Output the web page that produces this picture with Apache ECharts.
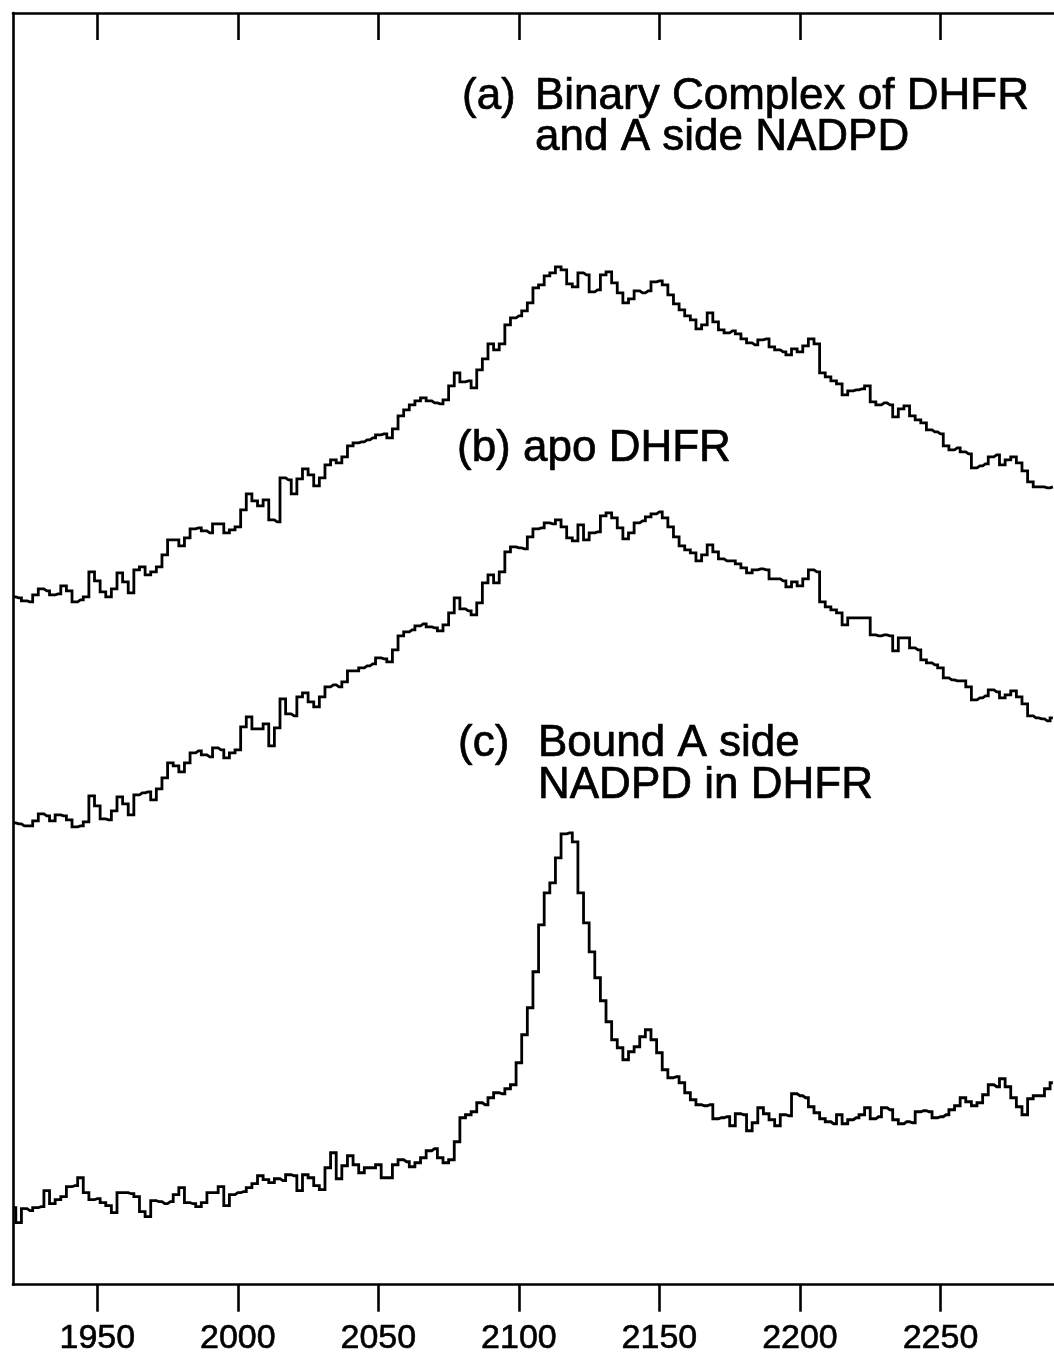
<!DOCTYPE html>
<html>
<head>
<meta charset="utf-8">
<title>DHFR / NADPD spectra</title>
<script src="https://cdn.jsdelivr.net/npm/echarts@6/dist/echarts.min.js"></script>
<style>
  html, body { margin: 0; padding: 0; background: #fff; overflow: hidden; }
  /* the plot box runs past the right edge of the page, so the canvas is wider than the window */
  #chart { width: 1100px; height: 1356px; }
</style>
</head>
<body>
<div id="chart"></div>
<script>
// Wavenumber sampling (cm^-1)
const wavenumbers = [
  1920,1922,1924,1926,1928,1930,1932,1934,1936,1938,
  1940,1942,1944,1946,1948,1950,1952,1954,1956,1958,
  1960,1962,1964,1966,1968,1970,1972,1974,1976,1978,
  1980,1982,1984,1986,1988,1990,1992,1994,1996,1998,
  2000,2002,2004,2006,2008,2010,2012,2014,2016,2018,
  2020,2022,2024,2026,2028,2030,2032,2034,2036,2038,
  2040,2042,2044,2046,2048,2050,2052,2054,2056,2058,
  2060,2062,2064,2066,2068,2070,2072,2074,2076,2078,
  2080,2082,2084,2086,2088,2090,2092,2094,2096,2098,
  2100,2102,2104,2106,2108,2110,2112,2114,2116,2118,
  2120,2122,2124,2126,2128,2130,2132,2134,2136,2138,
  2140,2142,2144,2146,2148,2150,2152,2154,2156,2158,
  2160,2162,2164,2166,2168,2170,2172,2174,2176,2178,
  2180,2182,2184,2186,2188,2190,2192,2194,2196,2198,
  2200,2202,2204,2206,2208,2210,2212,2214,2216,2218,
  2220,2222,2224,2226,2228,2230,2232,2234,2236,2238,
  2240,2242,2244,2246,2248,2250,2252,2254,2256,2258,
  2260,2262,2264,2266,2268,2270,2272,2274,2276,2278,
  2280,2282,2284,2286,2288,2290
];

// (a) binary complex of DHFR with A-side NADPD (offset intensity)
const binaryComplex = [
  68.8,68.7,68.4,68.3,69.0,69.6,69.4,69.0,69.1,69.9,
  69.4,68.3,68.5,68.8,71.3,70.4,69.3,68.8,69.6,71.2,
  70.3,69.2,71.5,71.8,71.0,71.3,71.8,73.0,74.5,74.5,
  73.9,74.7,75.6,75.7,75.4,75.2,76.1,76.1,75.2,75.5,
  75.8,77.5,79.1,78.4,77.9,78.5,76.5,76.3,80.7,80.5,
  79.1,80.6,81.6,81.0,79.9,80.7,82.0,82.5,82.2,82.8,
  83.9,
  84.2,84.3,84.5,84.7,85.0,85.1,84.7,85.6,86.9,87.5,
  88.0,88.4,88.7,88.4,88.2,88.1,88.5,89.9,91.2,90.3,
  90.4,89.7,91.5,92.6,94.1,93.5,94.1,96.0,96.7,96.9,
  97.4,98.2,99.7,100.0,100.9,101.2,101.8,101.5,100.1,99.8,
  101.2,101.0,99.3,99.5,101.0,101.3,100.2,99.2,98.2,98.6,
  99.4,99.2,99.4,100.3,100.4,100.0,99.0,98.1,97.5,96.9,
  96.5,95.6,
  96.0,97.2,96.3,95.5,95.2,95.4,95.1,94.6,94.2,94.0,
  94.5,94.6,93.8,93.5,93.3,93.0,93.6,93.3,93.9,94.6,
  94.1,91.2,90.8,90.4,90.1,89.0,89.4,89.5,89.6,89.9,
  88.3,88.0,88.2,88.0,86.8,87.6,87.9,86.9,86.5,86.2,
  85.5,85.3,85.1,83.9,83.5,83.7,83.3,83.1,81.7,81.9,
  82.1,82.8,83.0,82.0,82.5,82.8,82.2,81.4,80.3,79.8,
  79.8,79.7,79.8
];

// (b) apo DHFR (offset intensity)
const apoDHFR = [
  46.2,46.1,45.9,45.9,46.4,47.1,46.9,46.4,47.0,46.9,
  46.5,45.8,45.9,46.3,48.9,47.9,46.6,46.5,47.4,48.8,
  48.1,47.0,49.0,49.2,49.3,48.5,49.6,50.7,52.2,51.9,
  51.3,52.2,53.2,53.4,53.0,52.8,53.7,53.5,52.7,53.2,
  53.5,55.8,56.8,55.6,55.6,56.1,53.9,55.7,58.6,57.1,
  56.9,58.8,59.2,58.3,57.8,58.8,59.8,60.0,59.8,60.3,
  61.4,
  61.4,61.7,61.9,62.1,62.7,62.6,62.3,63.5,64.9,65.3,
  65.5,65.9,66.1,65.8,65.7,65.4,66.0,67.2,68.7,67.6,
  67.4,67.0,68.2,70.2,71.0,70.2,71.3,73.3,73.8,73.7,
  73.6,74.8,75.6,75.7,76.2,76.1,76.5,75.8,74.7,74.4,
  76.0,74.5,75.2,75.3,76.9,77.2,76.7,75.7,74.6,75.2,
  76.2,76.4,76.8,77.1,77.3,76.7,75.8,74.8,73.9,73.5,
  73.2,72.4,
  73.0,74.0,73.3,72.6,72.4,72.4,72.1,71.7,71.2,71.5,
  71.6,71.5,70.6,70.6,70.4,69.8,70.3,69.9,70.6,71.5,
  71.3,68.3,67.8,67.5,67.2,66.0,66.7,66.7,66.7,66.7,
  65.0,64.9,65.0,64.9,63.4,64.7,64.7,63.7,63.5,62.5,
  62.2,62.0,61.7,60.7,60.5,60.4,60.4,59.8,58.5,58.7,
  58.9,59.5,59.3,58.7,59.0,59.4,58.8,58.1,56.9,56.7,
  56.6,56.4,56.7
];

// (c) bound A-side NADPD in DHFR (offset intensity)
const boundNADPD = [
  7.7,6.2,7.6,7.4,7.7,7.8,9.4,8.1,8.5,8.8,
  9.8,9.9,10.7,9.2,8.5,8.6,8.2,7.9,7.2,9.2,
  9.2,9.1,8.8,7.3,6.8,8.4,8.3,8.1,8.3,9.0,
  9.7,8.2,8.1,7.8,8.2,9.2,9.2,9.8,7.9,9.0,
  9.2,9.3,9.7,10.1,10.9,10.5,10.2,10.6,10.4,11.0,
  10.9,9.4,11.0,10.7,9.9,9.5,11.7,13.2,10.6,11.9,
  12.9,
  12.0,11.2,11.7,11.7,12.0,10.7,10.7,12.0,12.5,12.3,
  11.8,12.2,12.7,13.4,13.6,12.7,12.2,12.5,14.3,16.7,
  17.0,17.3,18.2,18.0,18.7,19.2,19.1,19.6,20.0,22.2,
  25.0,27.7,31.3,36.0,39.2,40.2,42.7,45.1,45.2,44.3,
  39.2,36.2,33.3,30.7,28.4,26.3,24.5,23.7,22.5,23.3,
  23.8,24.8,25.5,24.5,23.2,21.5,20.7,20.8,20.2,19.2,
  18.5,18.0,
  17.9,18.0,16.6,16.7,16.8,15.9,17.1,17.0,15.4,16.2,
  17.7,17.1,16.5,15.9,17.0,16.9,19.1,18.9,18.7,17.8,
  17.2,16.6,16.3,16.1,17.0,16.1,16.5,16.7,17.0,17.7,
  16.6,16.8,17.7,17.5,16.5,16.1,16.3,16.2,17.3,17.4,
  17.3,16.7,16.8,17.0,17.5,17.9,18.7,18.3,17.9,18.2,
  19.0,20.0,19.8,20.6,19.8,18.7,17.8,17.0,18.6,18.9,
  18.9,19.6,20.2
];

const tickValues = [1950, 2000, 2050, 2100, 2150, 2200, 2250];
const xMin = 1920, xMax = 2300;
const yMin = 0, yMax = 127.2;

const FONT = '"Liberation Sans", Arial, Helvetica, sans-serif';
const INK = '#000';

function pairs(values) {
  return wavenumbers.map((w, i) => [w, values[i]]);
}

function trace(name, values) {
  return {
    name: name,
    type: 'line',
    step: 'middle',
    data: pairs(values),
    showSymbol: false,
    symbol: 'none',
    silent: true,
    animation: false,
    lineStyle: { color: INK, width: 2.8, join: 'miter' },
    z: 3
  };
}

function label(text, x, y) {
  return {
    type: 'text',
    x: x,
    y: y,
    silent: true,
    style: {
      text: text,
      fill: INK,
      stroke: INK,
      lineWidth: 0.7,
      font: '44px ' + FONT,
      verticalAlign: 'middle',
      align: 'left'
    }
  };
}

const chart = echarts.init(document.getElementById('chart'), null, { renderer: 'canvas' });

chart.setOption({
  animation: false,
  backgroundColor: '#fff',
  grid: { left: 13, top: 13, width: 1068, height: 1272, containLabel: false },
  xAxis: [
    {
      type: 'value',
      position: 'bottom',
      min: xMin,
      max: xMax,
      axisLine: { show: true, onZero: false, lineStyle: { color: INK, width: 2.6 } },
      axisTick: { show: true, inside: false, length: 27, customValues: tickValues,
                  lineStyle: { color: INK, width: 2.6 } },
      axisLabel: { show: true, customValues: tickValues, margin: 37,
                   color: INK, fontSize: 34, fontFamily: FONT,
                   textBorderColor: INK, textBorderWidth: 0.6,
                   formatter: v => String(v) },
      splitLine: { show: false }
    },
    {
      type: 'value',
      position: 'top',
      min: xMin,
      max: xMax,
      axisLine: { show: true, onZero: false, lineStyle: { color: INK, width: 2.6 } },
      axisTick: { show: true, inside: true, length: 27, customValues: tickValues,
                  lineStyle: { color: INK, width: 2.6 } },
      axisLabel: { show: false },
      splitLine: { show: false }
    }
  ],
  yAxis: [
    {
      type: 'value',
      position: 'left',
      min: yMin,
      max: yMax,
      axisLine: { show: true, onZero: false, lineStyle: { color: INK, width: 2.6 } },
      axisTick: { show: false },
      axisLabel: { show: false },
      splitLine: { show: false }
    },
    {
      type: 'value',
      position: 'right',
      min: yMin,
      max: yMax,
      axisLine: { show: true, onZero: false, lineStyle: { color: INK, width: 2.6 } },
      axisTick: { show: false },
      axisLabel: { show: false },
      splitLine: { show: false }
    }
  ],
  series: [
    trace('(a) Binary Complex of DHFR and A side NADPD', binaryComplex),
    trace('(b) apo DHFR', apoDHFR),
    trace('(c) Bound A side NADPD in DHFR', boundNADPD)
  ],
  graphic: [
    label('(a)', 462, 97),
    label('Binary Complex of DHFR', 535, 97),
    label('and A side NADPD', 535, 138),
    label('(b) apo DHFR', 457, 449),
    label('(c)', 458, 744),
    label('Bound A side', 538, 744),
    label('NADPD in DHFR', 538, 786)
  ]
});
</script>
</body>
</html>
